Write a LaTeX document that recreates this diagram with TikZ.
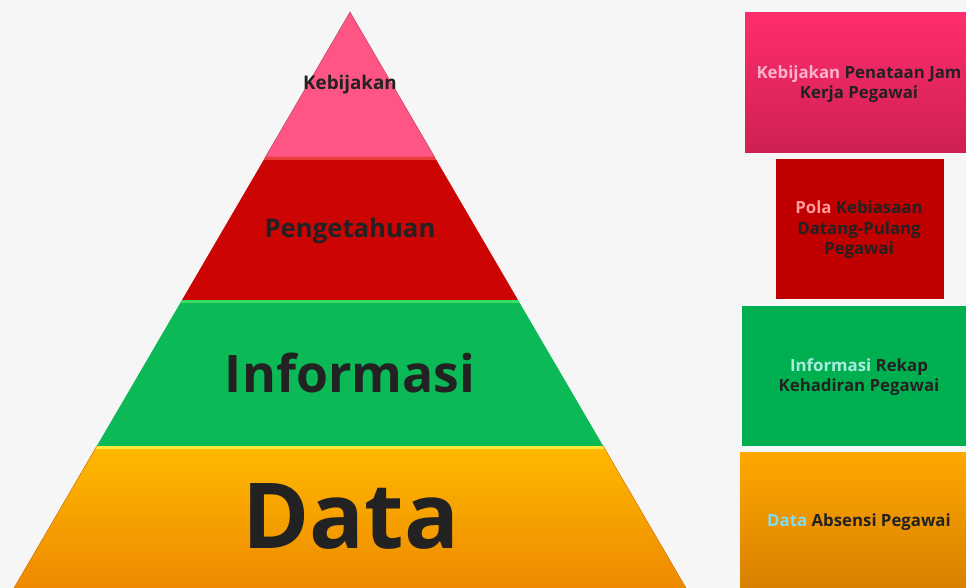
\documentclass[tikz,border=0pt]{standalone}
\usepackage{fontspec}
\setmainfont{Open Sans}
\definecolor{bg}{HTML}{F6F6F6}
\definecolor{ink}{HTML}{222222}
\definecolor{pinkL}{HTML}{FF5585}
\definecolor{redL}{HTML}{CC0404}
\definecolor{greenL}{HTML}{0BB957}
\definecolor{orTop}{HTML}{FFB800}
\definecolor{orBot}{HTML}{EE8A00}
\definecolor{boxPinkT}{HTML}{FF2D6C}
\definecolor{boxPinkB}{HTML}{CE2053}
\definecolor{boxRed}{HTML}{C00000}
\definecolor{boxGreen}{HTML}{00B050}
\definecolor{boxOrT}{HTML}{FFA800}
\definecolor{boxOrB}{HTML}{D98000}
\definecolor{hlPink}{HTML}{FFB3CC}
\definecolor{hlRed}{HTML}{FF9A9A}
\definecolor{hlGreen}{HTML}{A8ECE0}
\definecolor{hlBlue}{HTML}{80DDF5}
\tikzset{
  lbl/.style={text=ink, align=center, inner sep=0pt, anchor=base},
  boxtxt/.style={font=\bfseries\fontsize{16.8}{20.5}\selectfont, text=ink, align=center, inner sep=0pt},
}
\begin{document}
\begin{tikzpicture}[x=1pt,y=-1pt]
\fill[bg] (0,0) rectangle (966,588);
\useasboundingbox (0,0) rectangle (966,588);
% pyramid layers
\fill[pinkL] (350,12) -- (434.6,157) -- (265.4,157) -- cycle;
\draw[pinkL!70!black, line width=0.4pt] (265.4,157) -- (350,12) -- (434.6,157);
\fill[redL] (265.4,157) -- (434.6,157) -- (518,300) -- (182,300) -- cycle;
\fill[red!60!white, opacity=0.6] (265.4,157) -- (434.6,157) -- (436.4,160) -- (263.6,160) -- cycle;
\fill[greenL] (182,300) -- (518,300) -- (603.2,446) -- (96.8,446) -- cycle;
\fill[green!60!white, opacity=0.5] (182,300) -- (518,300) -- (519.7,303) -- (180.3,303) -- cycle;
\shade[top color=orTop, bottom color=orBot] (96.8,446) -- (603.2,446) -- (686,588) -- (14,588) -- cycle;
\fill[yellow!70!white, opacity=0.8] (96.8,446) -- (603.2,446) -- (604.9,449) -- (95.1,449) -- cycle;
\draw[orange!80!black, line width=0.4pt] (96.8,446) -- (14,588);
\draw[orange!80!black, line width=0.4pt] (603.2,446) -- (686,588);
% pyramid labels
\node[lbl, font=\bfseries\fontsize{18.8}{22}\selectfont] (kebijakan) at (350,90) {Kebijakan};
\node[lbl, font=\bfseries\fontsize{25.7}{30}\selectfont] (pengetahuan) at (350,237) {Pengetahuan};
\node[lbl, font=\bfseries\fontsize{51.7}{60}\selectfont] (informasi) at (350,392) {Informasi};
\node[lbl, font=\bfseries\fontsize{91}{104}\selectfont] (data) at (351,548) {Data};
% right boxes
\shade[top color=boxPinkT, bottom color=boxPinkB] (745,13) rectangle (966,153);
\fill[boxRed] (776,159) rectangle (944,299);
\fill[boxGreen] (742,306) rectangle (966,446);
\shade[top color=boxOrT, bottom color=boxOrB] (740,452) rectangle (966,588);
\node[boxtxt] (b1) at (859,84) {\textcolor{hlPink}{Kebijakan} Penataan Jam\\Kerja Pegawai};
\node[boxtxt] (b2) at (859,230) {\textcolor{hlRed}{Pola} Kebiasaan\\Datang-Pulang\\Pegawai};
\node[boxtxt] (b3) at (859,377) {\textcolor{hlGreen}{Informasi} Rekap\\Kehadiran Pegawai};
\node[boxtxt] (b4) at (859,522) {\textcolor{hlBlue}{Data} Absensi Pegawai};
\end{tikzpicture}
\end{document}
